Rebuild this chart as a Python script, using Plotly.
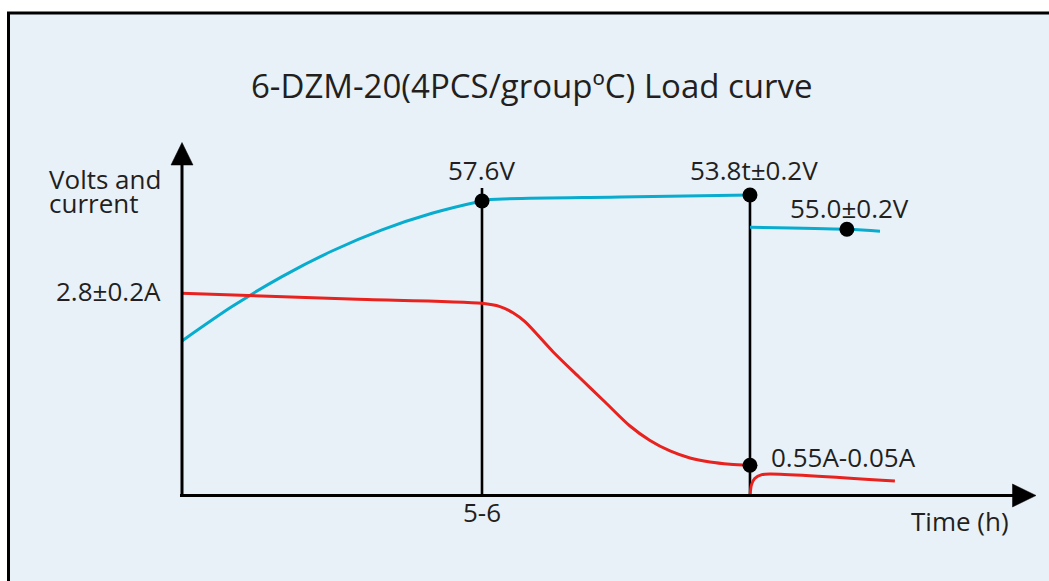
import plotly.graph_objects as go

# ---------------- data (time in hours, level in arbitrary units) ----------------
blue_charge_t = [0, 0.917, 1.833, 2.75, 3.667, 4.583, 5.5, 5.647, 8.03, 10.413]
blue_charge_v = [43.77, 53.51, 62.01, 69.26, 75.24, 79.94, 83.43, 83.85, 84.56, 85.13]
blue_float_t = [10.413, 12.19, 12.797]
blue_float_v = [75.98, 75.41, 74.84]

red_charge_t = [0, 3.08, 5.5, 5.83, 6.068, 6.288, 6.801, 7.297, 7.755, 8.213,
                8.58, 8.947, 9.313, 9.68, 10.047, 10.413]
red_charge_v = [57.28, 55.67, 54.45, 53.51, 51.78, 49.24, 40.74, 33.29, 26.49, 19.69,
                15.58, 12.61, 10.62, 9.49, 8.87, 8.56]
red_float_t = [10.413, 10.44, 10.50, 10.63, 10.78, 13.07]
red_float_v = [-0.3, 3.0, 4.8, 5.9, 6.1, 4.1]

dots_t = [5.5, 10.413, 12.19, 10.413]
dots_v = [83.43, 85.13, 75.41, 8.56]

guide_t = [5.5, 10.413]
guide_top = [87.1, 85.13]

title_text = "6-DZM-20(4PCS/groupºC) Load curve"
y_label = ["Volts and", "current"]
x_label = "Time (h)"
x_tick = "5-6"
start_current = "2.8±0.2A"
label_boost = "57.6V"
label_end = "53.8t±0.2V"
label_float = "55.0±0.2V"
label_current = "0.55A-0.05A"

# ---------------- layout geometry (pixels) ----------------
W, H = 1049, 581
OX, OY = 182.0, 495.5
PX_PER_H = 54.545
PX_PER_U = 3.53

def tx(px):
    return (px - OX) / PX_PER_H

def ty(py):
    return (OY - py) / PX_PER_U

BLUE = "rgb(8,172,206)"
RED = "rgb(232,34,30)"
INK = "#231f20"
BG = "#e8f1f8"
FONT = "Open Sans"

fig = go.Figure()

# vertical guide lines
for t, top in zip(guide_t, guide_top):
    fig.add_trace(go.Scatter(x=[t, t], y=[ty(OY + 1.5), top], mode="lines",
                             line=dict(color="black", width=2.6),
                             hoverinfo="skip", showlegend=False))

fig.add_trace(go.Scatter(x=blue_charge_t, y=blue_charge_v, mode="lines",
                         line=dict(color=BLUE, width=3, shape="spline", smoothing=0.8),
                         showlegend=False))
fig.add_trace(go.Scatter(x=blue_float_t, y=blue_float_v, mode="lines",
                         line=dict(color=BLUE, width=3, shape="spline"),
                         showlegend=False))
fig.add_trace(go.Scatter(x=red_charge_t, y=red_charge_v, mode="lines",
                         line=dict(color=RED, width=3, shape="spline", smoothing=0.8),
                         showlegend=False))
fig.add_trace(go.Scatter(x=red_float_t, y=red_float_v, mode="lines",
                         line=dict(color=RED, width=3, shape="spline", smoothing=0.8),
                         showlegend=False))
fig.add_trace(go.Scatter(x=dots_t, y=dots_v, mode="markers",
                         marker=dict(color="black", size=15),
                         showlegend=False))

shapes = []
# frame
shapes.append(dict(type="rect", xref="paper", yref="paper",
                   x0=8.5 / W, x1=1.05, y0=-0.05, y1=1 - 13.0 / H,
                   line=dict(color="black", width=3), fillcolor=BG, layer="below"))
# axes
shapes.append(dict(type="line", x0=0, x1=0, y0=ty(OY + 1.5), y1=ty(160),
                   line=dict(color="black", width=3)))
shapes.append(dict(type="line", x0=tx(180), x1=tx(1016), y0=0, y1=0,
                   line=dict(color="black", width=3)))
# arrow heads
shapes.append(dict(type="path",
                   path=f"M {tx(OX - 11)} {ty(165)} L {tx(OX + 11)} {ty(165)} L 0 {ty(142.5)} Z",
                   fillcolor="black", line=dict(color="black", width=0.5)))
shapes.append(dict(type="path",
                   path=f"M {tx(1012.5)} {ty(OY - 11.5)} L {tx(1012.5)} {ty(OY + 11.5)} L {tx(1036)} 0 Z",
                   fillcolor="black", line=dict(color="black", width=0.5)))

def ann(text, px, py, xanchor="center", size=26):
    return dict(text=text, x=tx(px), y=ty(py), xref="x", yref="y",
                xanchor=xanchor, yanchor="middle", showarrow=False,
                font=dict(family=FONT, size=size, color=INK))

annotations = [
    ann(title_text, 532, 85, size=33),
    ann(y_label[0], 47, 179, "left"),
    ann(y_label[1], 47, 203, "left"),
    ann(start_current, 163, 291, "right"),
    ann(label_boost, 481, 170),
    ann(label_end, 754, 170),
    ann(label_float, 788, 208, "left"),
    ann(label_current, 769, 457, "left"),
    ann(x_tick, 482, 512),
    ann(x_label, 1011, 521, "right"),
]

fig.update_layout(
    width=W, height=H,
    margin=dict(l=0, r=0, t=0, b=0),
    paper_bgcolor="white", plot_bgcolor="rgba(0,0,0,0)",
    xaxis=dict(range=[tx(0), tx(W)], visible=False, fixedrange=True),
    yaxis=dict(range=[ty(H), ty(0)], visible=False, fixedrange=True),
    shapes=shapes, annotations=annotations,
    hovermode=False, showlegend=False,
)

fig.write_html("out.html", config={"displayModeBar": False},
               post_script="document.body.style.margin='0';document.body.style.overflow='hidden';")
